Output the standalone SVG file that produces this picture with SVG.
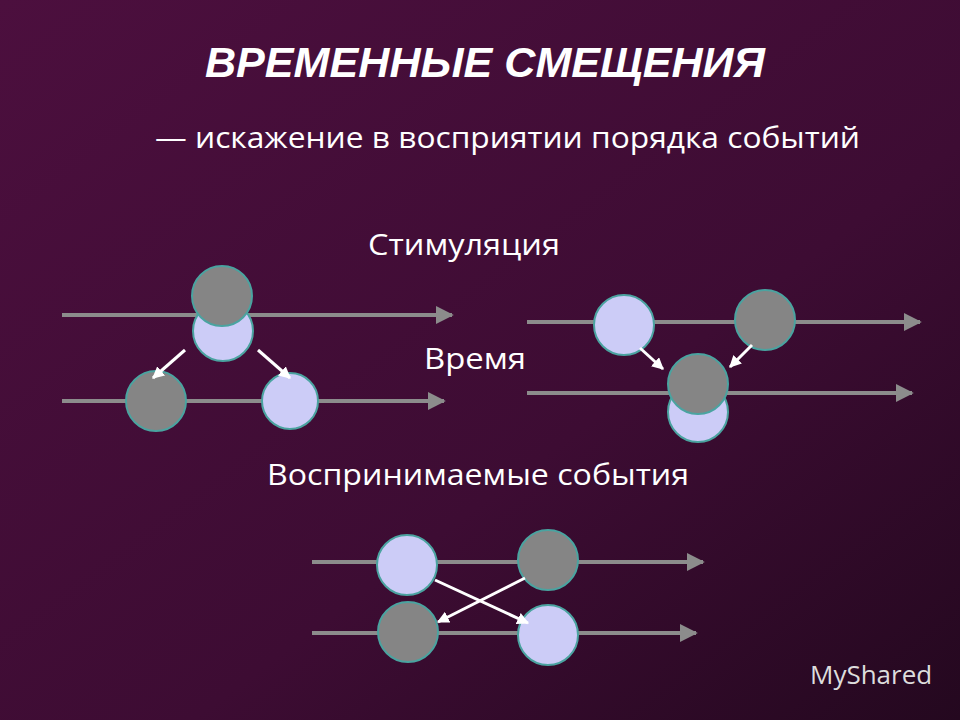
<svg xmlns="http://www.w3.org/2000/svg" width="960" height="720" viewBox="0 0 960 720">
<defs>
<linearGradient id="bg" x1="0" y1="0" x2="1" y2="1">
<stop offset="0" stop-color="#4c0f3e"/><stop offset="0.6" stop-color="#3d0c33"/><stop offset="1" stop-color="#24081f"/>
</linearGradient>
<marker id="ah" viewBox="0 0 10 10" refX="9" refY="5" markerWidth="4.5" markerHeight="4.5" orient="auto" markerUnits="strokeWidth"><path d="M0,0L10,5L0,10Z" fill="#8c8c8c"/></marker>
<marker id="wh" viewBox="0 0 10 10" refX="9" refY="5" markerWidth="4" markerHeight="4" orient="auto" markerUnits="strokeWidth"><path d="M0,0L10,5L0,10Z" fill="#fff"/></marker>
</defs>
<style>
text{font-family:"Open Sans","Liberation Sans",sans-serif;fill:#fff}
.t{font-family:"Liberation Sans",sans-serif;font-weight:bold;font-style:italic;font-size:42px}
.s{font-size:30px}
.ln{stroke:#8c8c8c;stroke-width:4;fill:none;marker-end:url(#ah)}
.wa{stroke:#fff;stroke-width:3;marker-end:url(#wh)}
.g{fill:#858585;stroke:#4aa3a0;stroke-width:2}
.l{fill:#ccccf7;stroke:#4aa3a0;stroke-width:2}
</style>
<rect width="960" height="720" fill="url(#bg)"/>
<text class="t" x="205" y="77" textLength="560" lengthAdjust="spacingAndGlyphs">ВРЕМЕННЫЕ СМЕЩЕНИЯ</text>
<text class="s" x="155" y="148" textLength="705" lengthAdjust="spacingAndGlyphs">— искажение в восприятии порядка событий</text>
<text class="s" x="368" y="255" textLength="192" lengthAdjust="spacingAndGlyphs">Стимуляция</text>
<text class="s" x="424" y="369" textLength="102" lengthAdjust="spacingAndGlyphs">Время</text>
<text class="s" x="267" y="485" textLength="422" lengthAdjust="spacingAndGlyphs">Воспринимаемые события</text>
<g id="connectors">
<line class="ln" x1="62" y1="315" x2="452" y2="315"/>
<line class="ln" x1="62" y1="401" x2="444" y2="401"/>
<line class="ln" x1="527" y1="322" x2="920" y2="322"/>
<line class="ln" x1="527" y1="393" x2="912" y2="393"/>
<line class="ln" x1="312" y1="562" x2="703" y2="562"/>
<line class="ln" x1="312" y1="633" x2="696" y2="633"/>
</g>
<g id="n1"><circle class="l" cx="223" cy="331" r="30"/><circle class="g" cx="222" cy="296" r="30"/></g>
<g id="n2"><circle class="g" cx="156" cy="401" r="30"/></g>
<g id="n3"><circle class="l" cx="290" cy="401" r="28"/></g>
<g id="n4"><circle class="l" cx="624" cy="325" r="30"/></g>
<g id="n5"><circle class="g" cx="765" cy="320" r="30"/></g>
<g id="n6"><circle class="l" cx="698" cy="412" r="30"/><circle class="g" cx="698" cy="384" r="30"/></g>
<g id="n7"><circle class="l" cx="407" cy="565" r="30"/></g>
<g id="n8"><circle class="g" cx="548" cy="560" r="30"/></g>
<g id="n9"><circle class="g" cx="408" cy="632" r="30"/></g>
<g id="n10"><circle class="l" cx="548" cy="635" r="30"/></g>
<g id="arrows">
<line class="wa" x1="185" y1="350" x2="153" y2="378"/>
<line class="wa" x1="258" y1="350" x2="290" y2="378"/>
<line class="wa" x1="640" y1="348" x2="663" y2="369"/>
<line class="wa" x1="752" y1="345" x2="730" y2="367"/>
<line class="wa" x1="435" y1="580" x2="528" y2="623"/>
<line class="wa" x1="525" y1="578" x2="438" y2="622"/>
</g>
<text x="810" y="684" style="font-size:26px;fill:#ddd">MyShared</text>
</svg>
